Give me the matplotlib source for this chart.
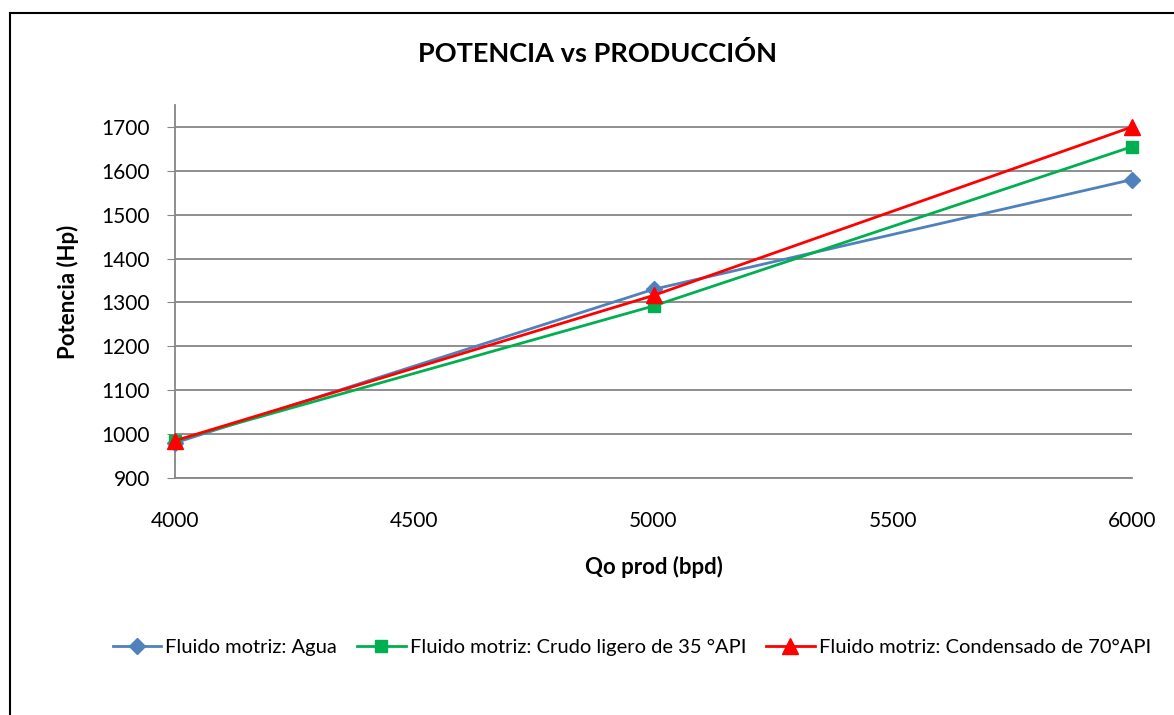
import matplotlib.pyplot as plt
from matplotlib.lines import Line2D

plt.rcParams['font.family'] = ['Lato', 'DejaVu Sans']

# datos
qo_prod = [4000, 5000, 6000]
pot_agua = [980, 1330, 1580]
pot_crudo = [985, 1292, 1655]
pot_condensado = [985, 1316, 1700]

etiquetas = [
    "Fluido motriz: Agua",
    "Fluido motriz: Crudo ligero de 35 °API",
    "Fluido motriz: Condensado de 70°API",
]
y_ticks = [900, 1000, 1100, 1200, 1300, 1400, 1500, 1600, 1700]
x_ticks = [4000, 4500, 5000, 5500, 6000]

W, H = 1174, 715
fig = plt.figure(figsize=(W / 100, H / 100), dpi=100)
ax = fig.add_axes([175 / W, 1 - 478 / H, (1132 - 175) / W, (478 - 105) / H])

ax.plot(qo_prod, pot_agua, color='#4f81bd', lw=2, marker='D', ms=8, label=etiquetas[0], zorder=3)
ax.plot(qo_prod, pot_crudo, color='#00b050', lw=2, marker='s', ms=9, label=etiquetas[1], zorder=4)
ax.plot(qo_prod, pot_condensado, color='#ff0000', lw=2, marker='^', ms=11, label=etiquetas[2], zorder=5)

ax.set_xlim(4000, 6000)
ax.set_ylim(900, 1750)
ax.set_xticks(x_ticks)
ax.set_yticks(y_ticks)
ax.grid(axis='y', color='#868686', lw=1.3)
for s in ['top', 'right']:
    ax.spines[s].set_visible(False)
for s in ['left', 'bottom']:
    ax.spines[s].set_color('#868686')
    ax.spines[s].set_linewidth(1.3)
ax.tick_params(axis='y', length=6, color='#868686', labelsize=15, pad=12)
ax.tick_params(axis='x', length=0, labelsize=15, pad=24)
ax.set_axisbelow(True)
for l in ax.lines:
    l.set_clip_on(False)

ax.set_xlabel("Qo prod (bpd)", fontsize=16, fontweight='bold', labelpad=18)
ax.set_ylabel("Potencia (Hp)", fontsize=16, fontweight='bold', labelpad=16)
fig.text(598 / W, 1 - 53 / H, "POTENCIA vs PRODUCCIÓN", ha='center', va='center',
         fontsize=19.5, fontweight='bold')

fig.legend(loc='center', bbox_to_anchor=(632 / W, 1 - 647 / H), ncol=3, frameon=False,
           fontsize=14.5, handlelength=2.4, handletextpad=0.2, columnspacing=1.0)

# marco del grafico
fig.add_artist(Line2D([9.5 / W, 9.5 / W], [0, 1 - 12.5 / H], color='black', lw=1.5))
fig.add_artist(Line2D([9.5 / W, 1], [1 - 12.5 / H, 1 - 12.5 / H], color='black', lw=1.5))

fig.savefig("out.png", dpi=100)
